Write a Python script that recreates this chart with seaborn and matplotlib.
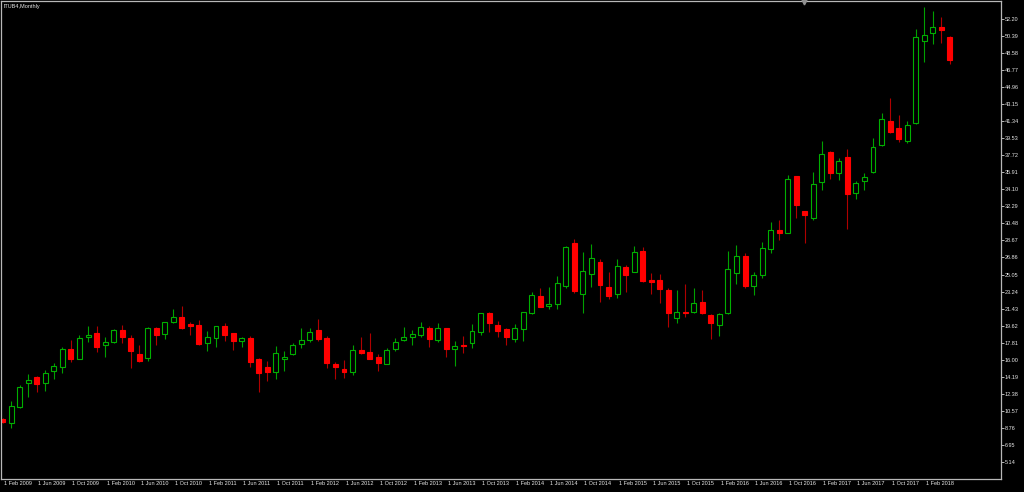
import numpy as np
import pandas as pd
import matplotlib
matplotlib.use("Agg")
import matplotlib.pyplot as plt
import matplotlib.font_manager as fm
from matplotlib.transforms import ScaledTranslation
import seaborn as sns

# ---------------- data (ITUB4 monthly OHLC) ----------------
months = pd.date_range("2009-02-01", periods=112, freq="MS")

opens = [9.75, 9.27, 10.97, 13.51, 14.22, 13.58, 14.79, 15.28, 17.12, 16.13,
         18.46, 18.82, 17.54, 17.93, 19.20, 18.36, 16.66, 16.16, 19.42, 18.71,
         20.05, 20.51, 19.80, 19.70, 17.83, 18.36, 19.59, 18.82, 18.00, 18.36,
         16.06, 15.25, 14.72, 16.06, 16.66, 17.65, 18.14, 19.17, 18.32, 15.56,
         15.03, 14.72, 17.01, 16.80, 16.27, 15.60, 17.12, 18.14, 18.39, 18.60,
         19.38, 18.14, 19.38, 17.12, 17.61, 17.83, 18.99, 20.94, 19.66, 19.24,
         18.25, 19.24, 21.01, 22.77, 21.75, 21.96, 23.87, 28.43, 23.02, 25.14,
         26.38, 23.73, 23.02, 25.81, 25.35, 27.55, 24.47, 24.47, 23.41, 20.48,
         21.08, 21.11, 22.14, 20.72, 19.73, 21.01, 25.25, 26.98, 23.87, 25.04,
         27.79, 29.77, 29.49, 35.50, 31.79, 31.08, 34.90, 38.01, 35.85, 37.48,
         33.73, 35.00, 35.96, 38.79, 41.30, 40.62, 39.25, 41.08, 49.85, 50.63,
         51.26, 50.24]
highs = [9.85, 11.64, 13.30, 14.47, 14.29, 14.93, 15.70, 17.40, 18.11, 18.60,
         19.59, 19.59, 18.46, 19.24, 19.70, 18.64, 17.58, 19.45, 19.52, 20.05,
         21.36, 21.71, 20.05, 20.23, 19.10, 19.59, 19.88, 18.89, 18.46, 18.53,
         16.16, 15.88, 17.47, 16.94, 17.83, 19.35, 19.35, 20.34, 18.53, 15.81,
         15.99, 17.58, 18.46, 18.89, 16.62, 17.22, 18.29, 19.45, 19.17, 20.05,
         19.59, 19.95, 19.38, 18.00, 18.53, 19.81, 21.01, 21.04, 20.16, 19.42,
         19.77, 21.11, 23.23, 23.59, 23.76, 24.93, 28.08, 28.78, 27.48, 28.29,
         26.66, 25.35, 26.70, 26.06, 28.08, 28.01, 25.18, 25.11, 23.59, 23.41,
         24.05, 23.59, 23.41, 20.87, 20.94, 27.58, 28.18, 27.30, 25.35, 28.47,
         30.66, 30.83, 35.60, 35.50, 31.79, 35.89, 39.21, 38.19, 37.37, 38.33,
         35.00, 35.78, 39.56, 42.14, 43.81, 41.93, 41.33, 51.05, 53.38, 53.00,
         52.32, 50.35]
lows = [9.35, 8.74, 10.86, 12.10, 12.63, 12.70, 13.94, 14.64, 15.81, 16.10,
        17.93, 16.87, 16.34, 17.83, 17.75, 15.17, 15.81, 15.92, 17.58, 18.21,
        19.88, 19.24, 18.64, 17.58, 16.94, 17.40, 18.04, 17.05, 17.40, 15.28,
        12.63, 13.80, 14.01, 14.82, 16.52, 17.22, 17.86, 18.04, 15.10, 13.94,
        14.04, 14.43, 16.59, 16.06, 14.86, 15.53, 16.98, 18.04, 17.58, 18.46,
        17.33, 17.93, 16.27, 15.39, 16.77, 17.30, 18.67, 18.92, 18.39, 17.58,
        17.93, 18.04, 20.87, 21.57, 21.36, 21.40, 23.66, 23.06, 20.94, 23.69,
        22.17, 22.46, 22.60, 23.16, 25.28, 24.30, 22.99, 22.00, 19.52, 19.95,
        20.51, 21.01, 20.83, 18.21, 18.53, 20.87, 24.05, 23.59, 22.88, 24.65,
        27.37, 28.71, 29.42, 31.01, 28.36, 30.83, 34.01, 35.15, 35.08, 29.88,
        33.02, 34.01, 35.85, 38.68, 40.02, 39.14, 38.96, 41.01, 47.62, 49.50,
        49.57, 47.38]
closes = [9.45, 11.11, 13.16, 13.87, 13.48, 14.57, 15.32, 17.19, 16.06, 18.28,
          18.64, 17.40, 17.86, 19.13, 18.46, 16.98, 15.92, 19.35, 18.64, 19.98,
          20.51, 19.35, 19.63, 17.65, 18.39, 19.56, 18.67, 18.04, 18.36, 15.81,
          14.64, 14.75, 16.69, 16.31, 17.54, 18.14, 18.99, 18.25, 15.67, 15.25,
          14.75, 17.01, 16.77, 16.13, 15.71, 17.01, 17.86, 18.39, 18.75, 19.45,
          18.21, 19.35, 17.15, 17.44, 17.51, 19.03, 20.94, 19.88, 19.10, 18.43,
          19.35, 21.04, 22.88, 21.64, 21.93, 24.12, 27.97, 23.34, 25.46, 26.77,
          23.94, 22.81, 25.96, 25.00, 27.40, 24.37, 24.26, 23.52, 20.97, 21.04,
          20.94, 22.03, 20.97, 19.91, 20.83, 25.60, 26.98, 23.83, 24.97, 27.83,
          29.81, 29.49, 35.15, 32.42, 31.40, 34.65, 37.83, 35.82, 37.09, 33.59,
          34.79, 35.36, 38.57, 41.51, 40.20, 39.46, 40.91, 50.20, 50.45, 51.33,
          51.02, 47.80]

price_ticks = [5.14, 6.95, 8.76, 10.57, 12.38, 14.19, 16.00, 17.81, 19.62,
               21.43, 23.24, 25.05, 26.86, 28.67, 30.48, 32.29, 34.10, 35.91,
               37.72, 39.53, 41.34, 43.15, 44.96, 46.77, 48.58, 50.39, 52.20]

title_text = "ITUB4,Monthly"

# ---------------- style ----------------
sns.set_style("dark", {"axes.facecolor": "black", "figure.facecolor": "black",
                       "axes.edgecolor": "#c0c0c0", "axes.grid": False})
avail = {f.name for f in fm.fontManager.ttflist}
if "Liberation Sans Narrow" in avail:
    fam, fs = "Liberation Sans Narrow", 4.8
else:
    fam, fs = "Liberation Sans", 4.0
plt.rcParams["font.family"] = [fam, "DejaVu Sans"]

UP_EDGE = "#00b000"
UP_WICK = "#00a000"
DN_FACE = "#ff0000"
DN_WICK = "#b00000"
TXT = "#e8e8e8"
FRAME = "#b8b8b8"

df = pd.DataFrame({"date": months, "open": opens, "high": highs,
                   "low": lows, "close": closes})
df["idx"] = np.arange(len(df))
df["up"] = df["close"] >= df["open"]
df["bottom"] = df[["open", "close"]].min(axis=1)
df["height"] = (df["close"] - df["open"]).abs().clip(lower=0.06)

fig = plt.figure(figsize=(10.24, 4.92), dpi=100)
fig.patch.set_facecolor("black")
ax = fig.add_axes([1 / 1024, 13 / 492, 1000 / 1024, 478 / 492])
ax.set_facecolor("black")

# wicks
wick_cols = np.where(df["up"], UP_WICK, DN_WICK)
ax.vlines(df["idx"], df["low"], df["high"], colors=wick_cols,
          linewidth=0.8, zorder=1)

# bodies: hollow green for up, filled red for down
face = np.where(df["up"], "black", DN_FACE)
edge = np.where(df["up"], UP_EDGE, DN_FACE)
ax.bar(df["idx"], df["height"], bottom=df["bottom"], width=0.58,
       color=face, edgecolor=edge, linewidth=0.8, zorder=2)

ax.set_xlim(-0.2, 117.0)
ax.set_ylim(3.37, 54.06)

# y axis on the right
ax.yaxis.tick_right()
ax.set_yticks(price_ticks)
ax.set_yticklabels([f"{v:.2f}" for v in price_ticks])
ax.tick_params(axis="y", direction="out", length=2, width=0.7, colors=FRAME,
               labelcolor=TXT, labelsize=fs, pad=0.6, left=False, right=True)

# x axis dates every 4 months
tick_idx = df["idx"][::4].tolist()
tick_lab = [f"1 {d:%b %Y}" for d in df["date"][::4]]
ax.set_xticks(tick_idx)
ax.set_xticklabels(tick_lab, ha="left")
ax.tick_params(axis="x", direction="out", length=3, width=0.7, colors=FRAME,
               labelcolor=TXT, labelsize=fs, pad=-1.3)
for lab in ax.get_xticklabels():
    lab.set_transform(lab.get_transform() +
                      ScaledTranslation(1.5 / 100, 0, fig.dpi_scale_trans))

for s in ax.spines.values():
    s.set_color(FRAME)
    s.set_linewidth(0.9)

ax.set_xlabel("")
ax.set_ylabel("")

# title in the top-left corner
ax.text(0.002, 0.993, title_text, transform=ax.transAxes, ha="left",
        va="top", color=TXT, fontsize=fs)

# small shift marker on the top edge
ax.plot([0.803], [0.997], marker="v", color="#909090", markersize=3.5,
        transform=ax.transAxes, clip_on=False, zorder=5)

fig.savefig("out.png", dpi=100, facecolor="black")
